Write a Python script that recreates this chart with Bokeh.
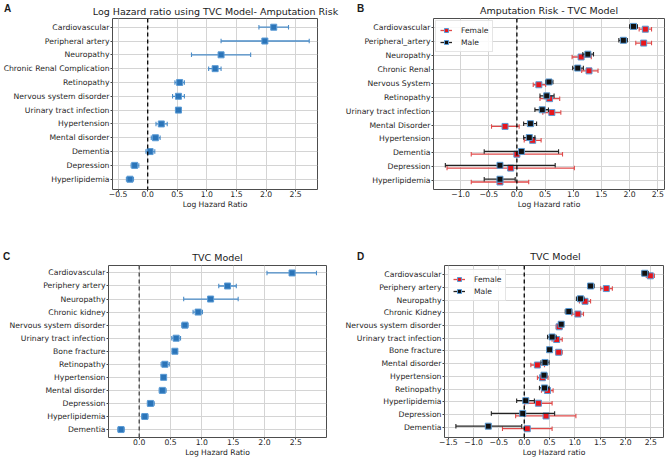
import math
from bokeh.plotting import figure
from bokeh.layouts import row, column
from bokeh.models import (ColumnDataSource, Range1d, FixedTicker, Span, Label,
                          Legend, LegendItem)
from bokeh.embed import file_html
from bokeh.resources import INLINE

FONT = "DejaVu Sans"

# ---------------- data ----------------
A_labels = ["Cardiovascular", "Peripheral artery", "Neuropathy", "Chronic Renal Complication",
            "Retinopathy", "Nervous system disorder", "Urinary tract infection", "Hypertension",
            "Mental disorder", "Dementia", "Depression", "Hyperlipidemia"]
A_hr = [2.13, 1.98, 1.24, 1.14, 0.54, 0.52, 0.52, 0.23, 0.13, 0.04, -0.22, -0.30]
A_lo = [1.88, 1.24, 0.74, 1.03, 0.46, 0.42, 0.47, 0.14, 0.06, -0.03, -0.28, -0.36]
A_hi = [2.38, 2.73, 1.74, 1.24, 0.62, 0.62, 0.57, 0.33, 0.21, 0.12, -0.15, -0.24]

B_labels = ["Cardiovascular", "Peripheral_artery", "Neuropathy", "Chronic Renal", "Nervous System",
            "Retinopathy", "Urinary tract infection", "Mental Disorder", "Hypertension",
            "Dementia", "Depression", "Hyperlipidemia"]
B_f_hr = [2.28, 2.25, 1.14, 1.28, 0.39, 0.58, 0.62, -0.21, 0.28, 0.00, -0.11, -0.30]
B_f_lo = [2.17, 2.11, 0.98, 1.15, 0.29, 0.41, 0.46, -0.45, 0.13, -0.81, -1.24, -0.81]
B_f_hi = [2.39, 2.39, 1.32, 1.44, 0.51, 0.76, 0.78, 0.04, 0.43, 0.81, 1.02, 0.21]
B_m_hr = [2.07, 1.89, 1.26, 1.08, 0.57, 0.53, 0.45, 0.24, 0.22, 0.08, -0.30, -0.30]
B_m_lo = [2.00, 1.81, 1.17, 0.99, 0.51, 0.41, 0.32, 0.12, 0.12, -0.58, -1.27, -0.58]
B_m_hi = [2.14, 1.96, 1.36, 1.18, 0.64, 0.66, 0.56, 0.35, 0.32, 0.74, 0.68, -0.03]

C_labels = ["Cardiovascular", "Periphery artery", "Neuropathy", "Chronic kidney",
            "Nervous system disorder", "Urinary tract infection", "Bone fracture", "Retinopathy",
            "Hypertension", "Mental disorder", "Depression", "Hyperlipidemia", "Dementia"]
C_hr = [2.44, 1.41, 1.14, 0.94, 0.73, 0.59, 0.57, 0.41, 0.39, 0.37, 0.18, 0.09, -0.29]
C_lo = [2.04, 1.27, 0.71, 0.86, 0.68, 0.52, 0.54, 0.35, 0.36, 0.32, 0.13, 0.04, -0.34]
C_hi = [2.83, 1.55, 1.58, 1.01, 0.78, 0.66, 0.60, 0.48, 0.42, 0.43, 0.24, 0.14, -0.24]

D_labels = ["Cardiovascular", "Periphery artery", "Neuropathy", "Chronic Kidney",
            "Nervous system disorder", "Urinary tract infection", "Bone fracture", "Mental disorder",
            "Hypertension", "Retinopathy", "Hyperlipidemia", "Depression", "Dementia"]
D_f_hr = [2.49, 1.62, 1.20, 1.06, 0.69, 0.64, 0.68, 0.26, 0.36, 0.46, 0.28, 0.43, 0.06]
D_f_lo = [2.41, 1.51, 1.09, 0.94, 0.63, 0.55, 0.62, 0.13, 0.26, 0.34, 0.01, -0.17, -0.43]
D_f_hi = [2.57, 1.74, 1.31, 1.17, 0.75, 0.75, 0.75, 0.40, 0.47, 0.57, 0.55, 1.02, 0.55]
D_m_hr = [2.38, 1.31, 1.11, 0.88, 0.73, 0.55, 0.50, 0.41, 0.39, 0.40, 0.03, -0.03, -0.71]
D_m_lo = [2.32, 1.25, 1.03, 0.81, 0.68, 0.46, 0.46, 0.33, 0.34, 0.30, -0.15, -0.65, -1.35]
D_m_hi = [2.45, 1.38, 1.18, 0.94, 0.77, 0.63, 0.54, 0.49, 0.45, 0.49, 0.20, 0.60, -0.05]

A_xticks = [-0.5, 0.0, 0.5, 1.0, 1.5, 2.0, 2.5]
B_xticks = [-1.0, -0.5, 0.0, 0.5, 1.0, 1.5, 2.0, 2.5]
C_xticks = [0.0, 0.5, 1.0, 1.5, 2.0, 2.5]
D_xticks = [-1.5, -1.0, -0.5, 0.0, 0.5, 1.0, 1.5, 2.0, 2.5]

series_names = ["Female", "Male"]
panel_letters = ["A", "B", "C", "D"]
panel_titles = ["Log Hazard ratio using TVC Model- Amputation Risk", "Amputation Risk - TVC Model",
                "TVC Model", "TVC Model"]
panel_xlabels = ["Log Hazard Ratio", "Log Hazard ratio", "Log Hazard Ratio", "Log Hazard ratio"]

BLUE = "#2b74b8"
BLUE_BAR = "#4a8cc8"
EDGE = "#5b9bd5"
RED = "#e8161c"
RED_BAR = "#e04a4a"
BLACK = "#111111"
BLACK_BAR = "#222222"
TXT = "#1a1a1a"
TICK_FS = "7.7px"
TITLE_FS = "9.5px"


def fmt(v):
    s = "%.1f" % v
    return s.replace("-", "\u2212")


def panel(width, height, bl, br, bt, bb, xr, yr, labels, xticks, series, xlabel,
          legend=False, legend_margin=2, zero_color="black"):
    p = figure(width=width, height=height, x_range=Range1d(*xr), y_range=Range1d(*yr),
               output_backend="svg", toolbar_location=None,
               min_border_left=bl, min_border_right=br, min_border_top=bt,
               min_border_bottom=bb)
    p.background_fill_color = "white"
    p.border_fill_color = "white"
    p.outline_line_color = "#4d4d4d"
    p.outline_line_width = 1

    n = len(labels)
    ys = [n - 1 - i for i in range(n)]
    p.yaxis.ticker = FixedTicker(ticks=ys)
    p.yaxis.major_label_overrides = {y: lab for y, lab in zip(ys, labels)}
    p.xaxis.ticker = FixedTicker(ticks=xticks)
    p.xaxis.major_label_overrides = {t: fmt(t) for t in xticks}
    for ax in (p.xaxis[0], p.yaxis[0]):
        ax.axis_line_color = None
        ax.major_tick_out = 2
        ax.major_tick_in = 0
        ax.minor_tick_out = 0
        ax.minor_tick_in = 0
        ax.major_tick_line_color = "#444444"
        ax.major_label_text_font = FONT
        ax.major_label_text_font_size = TICK_FS
        ax.major_label_text_color = "#262626"
    p.xaxis.major_label_standoff = -1
    p.yaxis.major_label_standoff = 1
    p.xaxis.axis_label = xlabel
    p.xaxis.axis_label_text_font = FONT
    p.xaxis.axis_label_text_font_size = "7.6px"
    p.xaxis.axis_label_text_font_style = "normal"
    p.xaxis.axis_label_text_color = TXT
    p.xaxis.axis_label_standoff = 0
    p.xgrid.grid_line_color = "#d4d4d4"
    p.ygrid.grid_line_color = "#d4d4d4"
    p.xgrid.grid_line_width = 1
    p.ygrid.grid_line_width = 1

    p.add_layout(Span(location=0, dimension="height", line_color=zero_color,
                      line_dash="4 3", line_width=1.3))

    items = []
    for s in series:
        y = [v + s["off"] for v in ys]
        src = ColumnDataSource(dict(y=y, hr=s["hr"], lo=s["lo"], hi=s["hi"]))
        r1 = p.segment(x0="lo", y0="y", x1="hi", y1="y", source=src,
                       line_color=s["bar"], line_width=1.3)
        p.scatter(x="lo", y="y", source=src, marker="dash", angle=math.pi / 2, size=4.5,
                  line_color=s["bar"], line_width=1.1)
        p.scatter(x="hi", y="y", source=src, marker="dash", angle=math.pi / 2, size=4.5,
                  line_color=s["bar"], line_width=1.1)
        r4 = p.scatter(x="hr", y="y", source=src, marker="square", size=6,
                       fill_color=s["fill"], line_color=s["edge"], line_width=1)
        if s.get("name"):
            items.append(LegendItem(label=s["name"], renderers=[r1, r4]))

    if legend:
        lg = Legend(items=items, location="top_left")
        lg.label_text_font = FONT
        lg.label_text_font_size = "7.6px"
        lg.label_text_color = "#262626"
        lg.glyph_width = 12
        lg.glyph_height = 10
        lg.label_height = 10
        lg.label_standoff = 9
        lg.spacing = 2
        lg.padding = 4
        lg.margin = legend_margin
        lg.border_line_color = "#cccccc"
        lg.border_line_width = 1
        lg.background_fill_alpha = 0.85
        p.add_layout(lg)
    return p


def header(width, height, texts):
    """A strip whose frame is the whole canvas; holds panel letters and titles."""
    h = figure(width=width, height=height, x_range=Range1d(0, width), y_range=Range1d(height, 0),
               output_backend="svg", toolbar_location=None, min_border=0,
               x_axis_type=None, y_axis_type=None)
    h.outline_line_color = None
    h.background_fill_color = "white"
    h.border_fill_color = "white"
    for text, x, y, size, bold, font in texts:
        h.add_layout(Label(x=x, y=y, text=text, text_align="center", text_baseline="middle",
                           text_font=font, text_font_size=size,
                           text_font_style="bold" if bold else "normal", text_color=TXT))
    return h


LETTER_FONT = "Liberation Sans"
h1 = header(669, 17, [
    (panel_letters[0], 7, 8, "10px", True, LETTER_FONT),
    (panel_titles[0], 215, 11, TITLE_FS, False, FONT),
    (panel_letters[1], 360, 8, "10px", True, LETTER_FONT),
    (panel_titles[1], 548.5, 9.5, TITLE_FS, False, FONT),
])
h2 = header(669, 32, [
    (panel_letters[2], 6, 24, "10px", True, LETTER_FONT),
    (panel_titles[2], 217, 25, TITLE_FS, False, FONT),
    (panel_letters[3], 360, 24, "10px", True, LETTER_FONT),
    (panel_titles[3], 555, 24, TITLE_FS, False, FONT),
])

pA = panel(335, 215, 110, 18, 1, 43, (-0.595, 2.87), (-0.745, 11.63), A_labels, A_xticks,
           [dict(hr=A_hr, lo=A_lo, hi=A_hi, off=0, fill=BLUE, edge=EDGE, bar=BLUE_BAR)],
           panel_xlabels[0])

pB = panel(334, 215, 98, 5, 1, 43, (-1.48, 2.62), (-0.64, 11.67), B_labels, B_xticks,
           [dict(hr=B_f_hr, lo=B_f_lo, hi=B_f_hi, off=-0.1, fill=RED, edge=EDGE, bar=RED_BAR,
                 name=series_names[0]),
            dict(hr=B_m_hr, lo=B_m_lo, hi=B_m_hi, off=0.1, fill=BLACK, edge=EDGE, bar=BLACK_BAR,
                 name=series_names[1])],
           panel_xlabels[1], legend=True, legend_margin=2)

pC = panel(335, 200, 108, 9, 1, 27, (-0.49, 2.99), (-0.61, 12.57), C_labels, C_xticks,
           [dict(hr=C_hr, lo=C_lo, hi=C_hi, off=0, fill=BLUE, edge=EDGE, bar=BLUE_BAR)],
           panel_xlabels[2], zero_color="#444444")

pD = panel(334, 200, 109, 6, 1, 27, (-1.575, 2.75), (-0.79, 12.71), D_labels, D_xticks,
           [dict(hr=D_f_hr, lo=D_f_lo, hi=D_f_hi, off=-0.1, fill=RED, edge=EDGE, bar=RED_BAR,
                 name=series_names[0]),
            dict(hr=D_m_hr, lo=D_m_lo, hi=D_m_hi, off=0.1, fill=BLACK, edge=EDGE, bar=BLACK_BAR,
                 name=series_names[1])],
           panel_xlabels[3], legend=True, legend_margin=4)

layout = column(h1, row(pA, pB, spacing=0), h2, row(pC, pD, spacing=0), spacing=0)
open("out.html", "w").write(file_html(layout, INLINE))
